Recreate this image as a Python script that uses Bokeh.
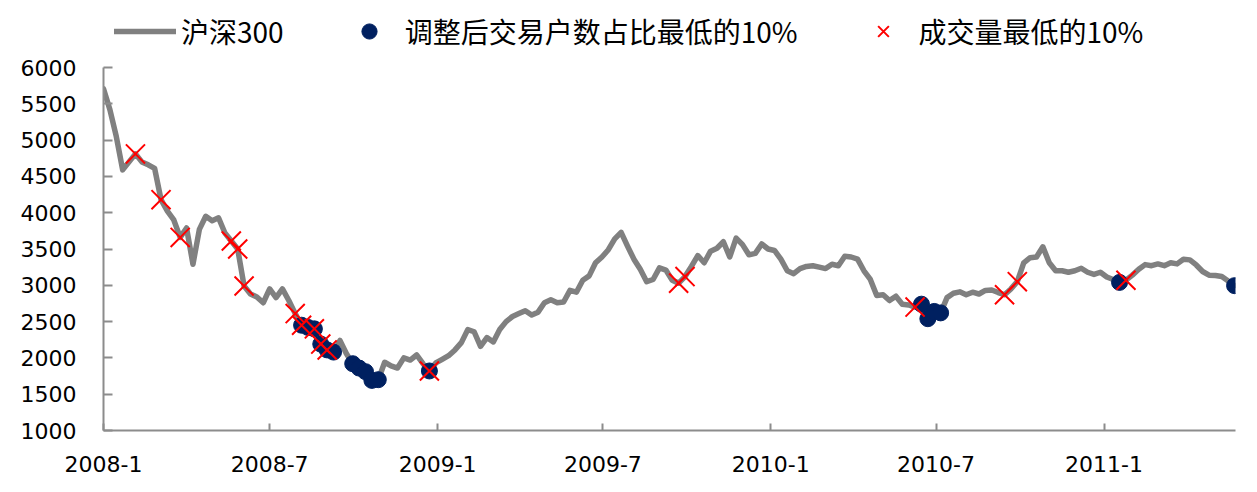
import pandas as pd
from bokeh.plotting import figure
from bokeh.models import (FixedTicker, CustomJSTickFormatter, Range1d, Legend,
                          LegendItem, ColumnDataSource)
from bokeh.embed import file_html
from bokeh.resources import INLINE

# ---------------- data ----------------
start_date = "2008-01-01"          # weekly observations
csi300 = [
    5705, 5420, 5050, 4590, 4700, 4810, 4700, 4660, 4610, 4180,
    4020, 3900, 3660, 3790, 3290, 3770, 3950, 3890, 3930, 3720,
    3610, 3500, 2990, 2880, 2840, 2760, 2950, 2830, 2950, 2790,
    2610, 2450, 2420, 2400, 2190, 2110, 2080, 2240, 2060, 1920,
    1860, 1810, 1690, 1700, 1940, 1890, 1860, 2000, 1970, 2040,
    1920, 1820, 1930, 1980, 2030, 2110, 2210, 2390, 2360, 2160,
    2280, 2220, 2390, 2500, 2570, 2610, 2650, 2590, 2630, 2760,
    2800, 2760, 2770, 2930, 2905, 3070, 3130, 3310, 3390, 3490,
    3640, 3730, 3540, 3360, 3220, 3050, 3080, 3240, 3210, 3070,
    3030, 3120, 3260, 3410, 3310, 3470, 3510, 3600, 3390, 3650,
    3560, 3420, 3440, 3570, 3500, 3480, 3360, 3200, 3160, 3230,
    3260, 3270, 3250, 3230, 3290, 3270, 3400, 3390, 3360, 3200,
    3080, 2860, 2870, 2790, 2850, 2740, 2730, 2700, 2740, 2540,
    2640, 2620, 2830, 2890, 2910, 2870, 2905, 2880, 2930, 2935,
    2900, 2870, 2950, 3050, 3310, 3380, 3390, 3530, 3310, 3200,
    3200, 3180, 3200, 3235, 3180, 3150, 3180, 3115, 3080, 3040,
    3070, 3140, 3220, 3285, 3270, 3295, 3270, 3310, 3295, 3360,
    3350, 3280, 3190, 3140, 3134, 3120, 3060, 2995,
]
# week indices flagged in each series
low_account_weeks = [31, 32, 33, 34, 35, 36, 39, 40, 41, 42, 43, 51,
                     128, 129, 130, 131, 159, 177]
low_volume_weeks = [5, 9, 12, 20, 21, 22, 30, 31, 33, 34, 35, 51,
                    90, 91, 127, 141, 143, 160]
tick_dates = ["2008-01-01", "2008-07-01", "2009-01-01", "2009-07-01",
              "2010-01-01", "2010-07-01", "2011-01-01"]
axis_end_date = "2011-05-25"
y_ticks = [1000, 1500, 2000, 2500, 3000, 3500, 4000, 4500, 5000, 5500, 6000]

series_names = ["沪深300", "调整后交易户数占比最低的10%", "成交量最低的10%"]

# ---------------- layout constants ----------------
W, H = 1249, 484
FRAME_BOTTOM_PX = 430      # pixel row of the 1000 level
AXIS_TOP_PX = 67           # pixel row of the 6000 level
# extra headroom above 6000 so the legend sits inside the frame
y_lo, y_hi = y_ticks[0], y_ticks[-1]
y_top = y_hi + AXIS_TOP_PX * (y_hi - y_lo) / (FRAME_BOTTOM_PX - AXIS_TOP_PX)

# ---------------- build ----------------
dates = pd.date_range(start_date, periods=len(csi300), freq="7D")
main_src = ColumnDataSource(dict(x=dates, y=csi300))
acc_src = ColumnDataSource(dict(x=[dates[i] for i in low_account_weeks],
                                y=[csi300[i] for i in low_account_weeks]))
vol_src = ColumnDataSource(dict(x=[dates[i] for i in low_volume_weeks],
                                y=[csi300[i] for i in low_volume_weeks]))

x0 = pd.Timestamp(start_date)
x1 = pd.Timestamp(axis_end_date)

p = figure(width=W, height=H, output_backend="svg", toolbar_location=None,
           x_axis_type="datetime",
           x_range=Range1d(x0, x1), y_range=Range1d(y_lo, y_top),
           min_border_left=103, min_border_right=14, min_border_top=0,
           min_border_bottom=H - FRAME_BOTTOM_PX)
p.outline_line_color = None
p.grid.visible = False
p.background_fill_color = "white"

line_r = p.line("x", "y", source=main_src, line_color="#808080", line_width=5.5,
                line_join="round", line_cap="round")
dot_r = p.scatter("x", "y", source=acc_src, marker="circle", size=16,
                  fill_color="#002060", line_color="#002060")
x_r = p.scatter("x", "y", source=vol_src, marker="x", size=27,
                line_color="#ff0000", line_width=2)

axis_col = "#8c8c8c"
tick_ms = [pd.Timestamp(d).value / 1e6 for d in tick_dates]
p.xaxis.ticker = FixedTicker(ticks=tick_ms)
p.xaxis.formatter = CustomJSTickFormatter(
    code="const d = new Date(tick); return d.getUTCFullYear() + '-' + (d.getUTCMonth() + 1);")
p.yaxis.ticker = FixedTicker(ticks=y_ticks)
p.yaxis.bounds = (y_lo, y_hi)

for ax in (p.xaxis[0], p.yaxis[0]):
    ax.axis_line_color = axis_col
    ax.axis_line_width = 2
    ax.major_tick_line_color = axis_col
    ax.major_tick_line_width = 2
    ax.minor_tick_line_color = None
    ax.major_tick_out = 0
    ax.major_label_text_font = "DejaVu Sans"
    ax.major_label_text_font_size = "22px"
    ax.major_label_text_color = "black"

p.xaxis.major_tick_in = 7
p.xaxis.major_label_standoff = 25
p.yaxis.major_tick_in = 9
p.yaxis.major_label_standoff = 27

legend = Legend(items=[LegendItem(label=series_names[0], renderers=[line_r]),
                       LegendItem(label=series_names[1], renderers=[dot_r]),
                       LegendItem(label=series_names[2], renderers=[x_r])],
                orientation="horizontal", location="top_left",
                label_text_font="Noto Sans CJK SC", label_text_font_size="28px",
                label_text_color="black",
                glyph_width=62, glyph_height=38, label_standoff=5, spacing=54,
                padding=13, margin=11, border_line_color=None,
                background_fill_alpha=0)
p.add_layout(legend)

open("out.html", "w").write(file_html(p, INLINE))
